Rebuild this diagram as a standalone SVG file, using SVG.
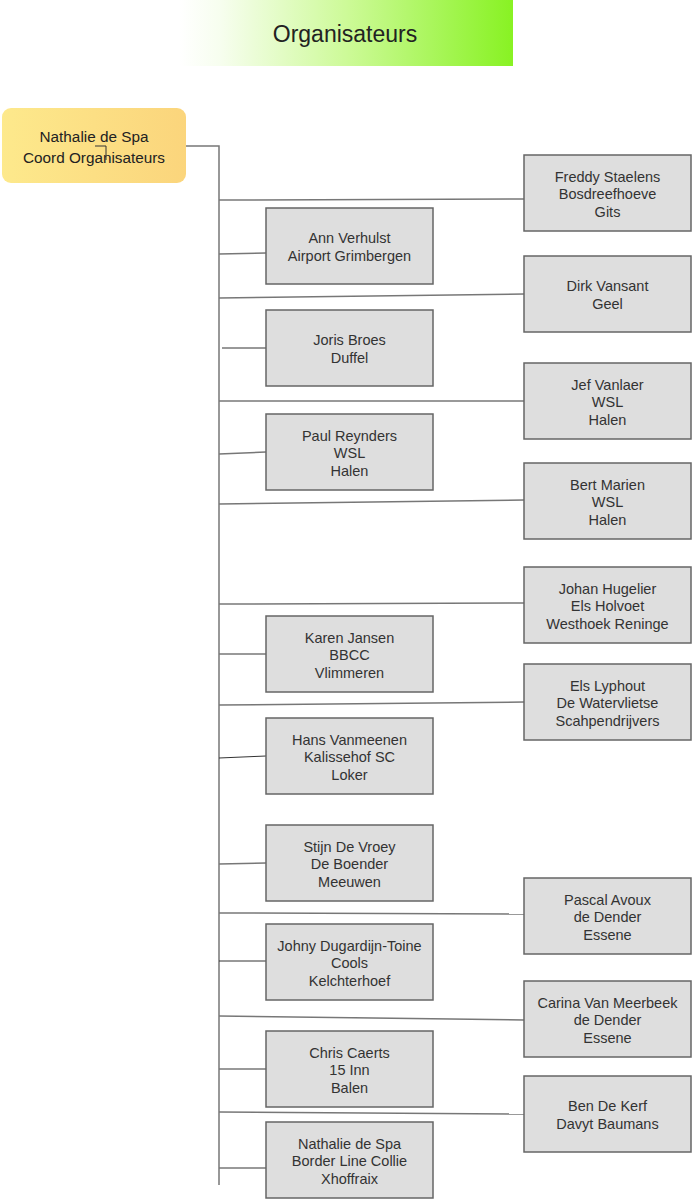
<svg xmlns="http://www.w3.org/2000/svg" width="692" height="1200" viewBox="0 0 692 1200">
<defs>
<linearGradient id="gTitle" x1="0" y1="0" x2="1" y2="0">
<stop offset="0" stop-color="#ffffff"/>
<stop offset="0.12" stop-color="#f7feef"/>
<stop offset="0.5" stop-color="#cdfa98"/>
<stop offset="1" stop-color="#88f223"/>
</linearGradient>
<linearGradient id="gRoot" x1="0" y1="0" x2="1" y2="0">
<stop offset="0" stop-color="#fde98c"/>
<stop offset="1" stop-color="#fbd57c"/>
</linearGradient>
<style>
.box{fill:#dedede;stroke:#666;stroke-width:1.5}
.t{font-family:"Liberation Sans",Arial,sans-serif;font-size:14.5px;fill:#333;text-anchor:middle}
.c{fill:none;stroke:#777;stroke-width:1.5}
.c2{fill:none;stroke:#333;stroke-width:1}
</style>
</defs>
<rect width="692" height="1200" fill="#ffffff"/>
<g id="title">
<rect x="180" y="0" width="333" height="66" fill="url(#gTitle)"/>
<text x="345" y="42" font-family="Liberation Sans,Arial,sans-serif" font-size="23" fill="#222" text-anchor="middle">Organisateurs</text>
</g>
<g id="connectors">
<path class="c" d="M186 146 H219 V1185"/>
<path class="c" d="M219 200 L524 199"/>
<path class="c" d="M219 298 L524 294"/>
<path class="c" d="M219 401 L524 401"/>
<path class="c" d="M219 504 L524 500"/>
<path class="c" d="M219 604 L524 603"/>
<path class="c" d="M219 705 L524 702"/>
<path class="c" d="M219 913 L524 914"/>
<path class="c" d="M219 1016 L524 1020"/>
<path class="c" d="M219 1112 L524 1114"/>
<path class="c" d="M219 254 L266 253"/>
<path class="c2" d="M222 348 L266 348"/>
<path class="c" d="M219 454 L266 452"/>
<path class="c" d="M219 654 L266 654"/>
<path class="c2" d="M219 758 L266 756"/>
<path class="c" d="M219 864 L266 863"/>
<path class="c2" d="M219 961 L266 961"/>
<path class="c" d="M219 1069 L266 1069"/>
<path class="c" d="M219 1168 L266 1168"/>
</g>
<g id="root">
<rect x="2" y="108" width="184" height="75" rx="9" fill="url(#gRoot)"/>
<text x="94" y="142" font-family="Liberation Sans,Arial,sans-serif" font-size="15.3" fill="#222" text-anchor="middle">Nathalie de Spa</text>
<text x="94" y="163" font-family="Liberation Sans,Arial,sans-serif" font-size="15.3" fill="#222" text-anchor="middle">Coord Organisateurs</text>
<path class="c2" d="M95 146 H106 V160"/>
</g>
<g id="freddy"><rect class="box" x="524" y="155" width="167" height="76"/><text class="t" x="607.5" y="181.5">Freddy Staelens</text><text class="t" x="607.5" y="199">Bosdreefhoeve</text><text class="t" x="607.5" y="216.5">Gits</text></g>
<g id="dirk"><rect class="box" x="524" y="256" width="167" height="76"/><text class="t" x="607.5" y="291">Dirk Vansant</text><text class="t" x="607.5" y="308.5">Geel</text></g>
<g id="jef"><rect class="box" x="524" y="363" width="167" height="76"/><text class="t" x="607.5" y="389.5">Jef Vanlaer</text><text class="t" x="607.5" y="407">WSL</text><text class="t" x="607.5" y="424.5">Halen</text></g>
<g id="bert"><rect class="box" x="524" y="463" width="167" height="76"/><text class="t" x="607.5" y="489.5">Bert Marien</text><text class="t" x="607.5" y="507">WSL</text><text class="t" x="607.5" y="524.5">Halen</text></g>
<g id="johan"><rect class="box" x="524" y="567" width="167" height="76"/><text class="t" x="607.5" y="593.5">Johan Hugelier</text><text class="t" x="607.5" y="611">Els Holvoet</text><text class="t" x="607.5" y="628.5">Westhoek Reninge</text></g>
<g id="els"><rect class="box" x="524" y="664" width="167" height="76"/><text class="t" x="607.5" y="690.5">Els Lyphout</text><text class="t" x="607.5" y="708">De Watervlietse</text><text class="t" x="607.5" y="725.5">Scahpendrijvers</text></g>
<g id="pascal"><rect class="box" x="524" y="878" width="167" height="76"/><text class="t" x="607.5" y="904.5">Pascal Avoux</text><text class="t" x="607.5" y="922">de Dender</text><text class="t" x="607.5" y="939.5">Essene</text></g>
<g id="carina"><rect class="box" x="524" y="981" width="167" height="76"/><text class="t" x="607.5" y="1007.5">Carina Van Meerbeek</text><text class="t" x="607.5" y="1025">de Dender</text><text class="t" x="607.5" y="1042.5">Essene</text></g>
<g id="ben"><rect class="box" x="524" y="1076" width="167" height="76"/><text class="t" x="607.5" y="1111">Ben De Kerf</text><text class="t" x="607.5" y="1128.5">Davyt Baumans</text></g>
<g id="ann"><rect class="box" x="266" y="208" width="167" height="76"/><text class="t" x="349.5" y="243">Ann Verhulst</text><text class="t" x="349.5" y="260.5">Airport Grimbergen</text></g>
<g id="joris"><rect class="box" x="266" y="310" width="167" height="76"/><text class="t" x="349.5" y="345">Joris Broes</text><text class="t" x="349.5" y="362.5">Duffel</text></g>
<g id="paul"><rect class="box" x="266" y="414" width="167" height="76"/><text class="t" x="349.5" y="440.5">Paul Reynders</text><text class="t" x="349.5" y="458">WSL</text><text class="t" x="349.5" y="475.5">Halen</text></g>
<g id="karen"><rect class="box" x="266" y="616" width="167" height="76"/><text class="t" x="349.5" y="642.5">Karen Jansen</text><text class="t" x="349.5" y="660">BBCC</text><text class="t" x="349.5" y="677.5">Vlimmeren</text></g>
<g id="hans"><rect class="box" x="266" y="718" width="167" height="76"/><text class="t" x="349.5" y="744.5">Hans Vanmeenen</text><text class="t" x="349.5" y="762">Kalissehof SC</text><text class="t" x="349.5" y="779.5">Loker</text></g>
<g id="stijn"><rect class="box" x="266" y="825" width="167" height="76"/><text class="t" x="349.5" y="851.5">Stijn De Vroey</text><text class="t" x="349.5" y="869">De Boender</text><text class="t" x="349.5" y="886.5">Meeuwen</text></g>
<g id="johny"><rect class="box" x="266" y="924" width="167" height="76"/><text class="t" x="349.5" y="950.5">Johny Dugardijn-Toine</text><text class="t" x="349.5" y="968">Cools</text><text class="t" x="349.5" y="985.5">Kelchterhoef</text></g>
<g id="chris"><rect class="box" x="266" y="1031" width="167" height="76"/><text class="t" x="349.5" y="1057.5">Chris Caerts</text><text class="t" x="349.5" y="1075">15 Inn</text><text class="t" x="349.5" y="1092.5">Balen</text></g>
<g id="nathalie2"><rect class="box" x="266" y="1122" width="167" height="76"/><text class="t" x="349.5" y="1148.5">Nathalie de Spa</text><text class="t" x="349.5" y="1166">Border Line Collie</text><text class="t" x="349.5" y="1183.5">Xhoffraix</text></g>
</svg>
